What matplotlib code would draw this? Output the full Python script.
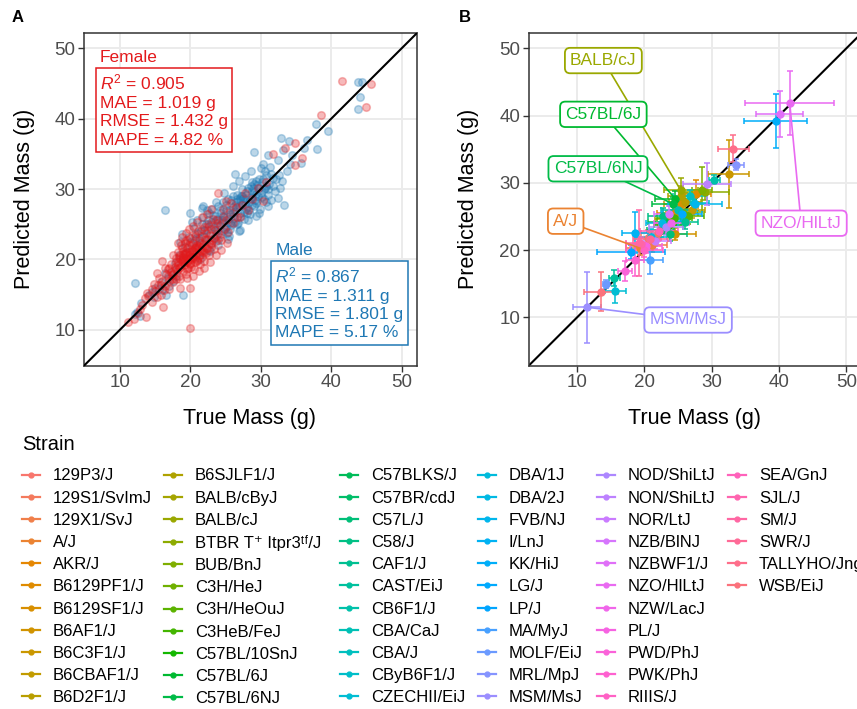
import numpy as np
import matplotlib
matplotlib.use("Agg")
import matplotlib.pyplot as plt
from matplotlib.lines import Line2D

plt.rcParams["font.family"] = ["Liberation Sans", "DejaVu Sans"]
plt.rcParams["mathtext.fontset"] = "custom"
plt.rcParams["mathtext.rm"] = "Liberation Sans"
plt.rcParams["mathtext.it"] = "Liberation Sans:italic"
plt.rcParams["mathtext.bf"] = "Liberation Sans:bold"

# ---- panel A: individual mice (true, predicted) ----
female_true = [
    11.2, 12.5, 13.7, 16.1, 19.9, 14.0, 14.5, 13.6, 15.2, 18.5,
    19.9, 15.0, 15.8, 16.4, 16.0, 17.0, 17.4, 16.8, 17.2, 17.6,
    17.8, 18.0, 18.1, 18.2, 18.3, 18.4, 18.5, 18.6, 18.7, 18.8,
    18.9, 19.0, 19.0, 19.1, 19.2, 19.3, 19.4, 19.5, 19.5, 19.6,
    19.7, 19.8, 19.9, 20.0, 20.0, 20.1, 20.2, 20.3, 20.4, 20.5,
    20.5, 20.6, 20.7, 20.8, 20.9, 21.0, 21.0, 21.1, 21.2, 21.3,
    21.4, 21.5, 21.6, 21.7, 21.8, 21.9, 22.0, 22.0, 22.1, 22.2,
    22.3, 22.4, 22.5, 22.6, 22.7, 22.8, 22.9, 23.0, 23.1, 23.2,
    23.3, 23.4, 23.5, 23.7, 23.8, 24.0, 24.0, 24.2, 24.4, 24.6,
    24.8, 25.0, 25.0, 25.3, 25.6, 26.0, 26.5, 27.0, 27.8, 28.2,
    30.3, 30.7, 31.7, 33.5, 34.8, 35.8, 34.8, 38.5, 41.6, 45.7,
    44.9, 18.6, 19.2, 19.8, 20.3, 20.8, 19.4, 20.6, 21.2, 19.0,
    20.0, 21.4, 18.9, 20.2, 19.6, 21.8, 22.4, 17.9, 18.4, 20.9,
    19.3, 16.9, 17.3, 16.5, 18.0, 15.4, 14.8, 13.9, 15.9,
    17.0, 17.5, 18.2, 18.8, 19.4, 19.8, 20.4, 21.0, 21.6, 22.4,
    23.0, 17.6, 18.6, 19.6, 20.4, 21.2, 22.0, 22.8, 23.6, 24.4,
    25.2, 16.4, 16.0, 15.6, 14.6, 13.2, 12.8, 12.0, 18.8, 19.6,
    20.6, 21.6, 22.6, 23.6, 24.6, 25.8, 26.6, 27.4, 28.8, 29.6,
    17.4, 18.2, 19.0, 19.8, 20.6, 21.4, 22.2, 23.0, 18.4, 19.2,
    20.0, 20.8, 21.6, 19.7, 20.2, 18.0, 17.0, 16.2, 15.2, 24.2,
]
female_pred = [
    11.1, 12.4, 11.8, 13.2, 10.3, 14.8, 13.9, 14.5, 18.1, 16.0,
    15.9, 15.5, 15.0, 16.2, 17.0, 15.8, 17.2, 18.6, 19.4, 18.0,
    19.0, 20.2, 18.4, 21.0, 19.6, 17.6, 20.6, 18.9, 22.0, 19.9,
    21.2, 18.3, 20.4, 19.2, 22.6, 20.9, 17.9, 19.7, 21.6, 20.2,
    18.8, 22.1, 19.4, 20.8, 23.0, 19.0, 21.4, 20.0, 22.4, 18.6,
    21.0, 19.6, 23.4, 20.5, 22.0, 19.9, 21.6, 24.0, 20.7, 22.8,
    19.3, 21.2, 23.3, 20.4, 22.2, 24.6, 21.0, 19.8, 22.9, 20.9,
    23.8, 21.7, 25.0, 22.4, 20.6, 23.5, 21.8, 24.4, 22.7, 25.8,
    23.1, 21.5, 24.2, 22.6, 25.2, 23.7, 29.5, 24.9, 22.8, 26.0,
    24.3, 28.3, 25.6, 23.9, 26.8, 25.2, 27.4, 26.0, 29.5, 27.1,
    28.3, 31.0, 35.0, 35.8, 36.5, 34.4, 33.5, 40.6, 45.4, 44.9,
    41.7, 20.0, 19.8, 20.6, 21.2, 21.8, 21.0, 20.2, 21.9, 19.6,
    19.5, 22.4, 20.8, 22.0, 18.6, 21.4, 22.9, 19.6, 18.8, 19.8,
    22.3, 17.6, 18.2, 17.9, 17.2, 16.4, 16.5, 15.2, 16.4,
    18.8, 20.6, 22.4, 23.2, 23.8, 24.4, 24.8, 25.4, 26.0, 26.4,
    27.2, 16.8, 17.2, 17.4, 17.6, 18.4, 18.8, 19.6, 20.6, 21.4,
    22.4, 18.8, 19.8, 17.4, 15.8, 13.6, 13.0, 11.6, 21.6, 22.8,
    23.6, 24.4, 24.8, 25.6, 27.2, 28.0, 26.0, 27.8, 28.6, 30.2,
    17.8, 19.2, 20.0, 21.0, 21.6, 20.6, 21.6, 22.2, 20.4, 20.8,
    20.0, 20.9, 21.8, 19.9, 20.4, 18.6, 17.0, 15.6, 14.6, 23.2,
]
male_true = [
    12.1, 12.4, 12.1, 14.5, 15.0, 14.8, 15.5, 16.0, 16.4, 18.9,
    17.0, 16.6, 17.5, 18.0, 17.8, 16.4, 18.5, 18.8, 20.0, 21.7,
    21.8, 19.5, 20.0, 20.5, 20.8, 21.0, 21.3, 21.5, 21.8, 22.0,
    22.2, 22.4, 22.6, 22.8, 23.0, 23.1, 23.3, 23.5, 23.6, 23.8,
    24.0, 24.1, 24.3, 24.5, 24.6, 24.8, 25.0, 25.1, 25.3, 25.4,
    25.6, 25.8, 26.0, 26.1, 26.2, 26.4, 26.5, 26.7, 26.8, 27.0,
    27.1, 27.3, 27.4, 27.6, 27.8, 28.0, 28.1, 28.3, 28.5, 28.6,
    28.8, 29.0, 29.1, 29.3, 29.5, 29.7, 29.9, 30.0, 30.2, 30.4,
    30.6, 30.8, 31.0, 31.2, 31.5, 31.7, 32.0, 32.4, 33.3, 32.4,
    33.0, 28.7, 26.3, 29.0, 30.3, 32.9, 34.0, 36.2, 35.7, 37.8,
    39.5, 38.0, 43.8, 44.4, 44.1, 43.8, 30.8, 31.5, 33.8, 34.5,
    32.6, 27.2, 25.7, 24.4, 23.0, 21.6, 20.4, 19.0, 22.6, 23.9,
    25.2, 26.6, 27.6, 28.4, 29.6, 30.4, 29.2, 27.9, 26.0, 24.9,
    23.7, 22.3, 21.2, 20.6, 29.8, 31.0, 27.0, 25.5,
    22.5, 23.2, 24.2, 25.0, 25.8, 26.6, 27.4, 28.2, 29.0, 29.8,
    30.6, 31.3, 23.4, 24.6, 25.6, 26.4, 27.2, 28.0, 28.8, 29.4,
    30.2, 31.0, 31.8, 32.2, 22.0, 22.9, 23.9, 24.7, 25.5, 26.3,
    27.1, 27.9, 28.7, 29.5, 30.3, 21.0, 21.6, 20.6, 19.8, 19.2,
    20.2, 18.4, 17.6, 16.8, 15.8, 14.2, 13.0, 12.8, 22.4, 23.6,
    24.8, 26.0, 26.9, 27.8, 28.6, 30.0, 31.0, 33.2, 34.2, 36.6,
    32.8, 30.8, 29.4, 28.2, 26.9, 25.4, 24.0, 22.8, 21.4, 25.3,
    26.1, 26.9, 27.7, 28.5, 29.3, 24.5, 23.8, 27.5, 28.9, 26.6,
]
male_pred = [
    12.2, 12.6, 16.7, 15.4, 16.0, 14.6, 15.8, 15.6, 18.1, 14.9,
    16.2, 14.9, 17.0, 17.6, 19.5, 27.1, 22.5, 23.6, 26.6, 27.3,
    27.6, 21.0, 22.5, 24.5, 23.0, 25.6, 22.2, 24.0, 26.0, 23.2,
    25.0, 24.2, 26.6, 23.8, 25.4, 27.2, 24.6, 26.2, 23.4, 25.8,
    27.6, 24.9, 26.6, 25.3, 28.2, 26.0, 24.6, 27.0, 25.8, 28.6,
    26.4, 24.9, 27.5, 29.0, 25.9, 26.9, 28.2, 27.4, 25.2, 28.8,
    26.6, 27.9, 30.0, 26.8, 28.6, 27.4, 29.7, 28.2, 26.5, 30.4,
    28.9, 27.6, 29.6, 31.2, 28.3, 30.2, 27.2, 29.4, 31.0, 28.6,
    30.1, 32.0, 29.2, 30.8, 28.4, 31.6, 29.8, 28.8, 27.8, 34.2,
    31.2, 31.0, 32.1, 35.3, 33.6, 37.3, 36.8, 35.8, 33.7, 39.2,
    38.2, 35.7, 45.2, 45.2, 43.1, 41.4, 30.4, 32.2, 32.6, 34.8,
    32.0, 29.0, 25.2, 23.6, 22.4, 21.0, 20.3, 20.0, 21.4, 22.8,
    23.8, 25.0, 25.8, 27.0, 29.0, 30.0, 28.4, 27.2, 26.2, 24.4,
    24.0, 22.8, 23.0, 21.6, 26.6, 27.6, 24.2, 23.3,
    25.6, 26.3, 27.0, 27.8, 28.4, 29.2, 29.0, 30.1, 30.8, 31.5,
    32.6, 33.2, 23.0, 24.0, 24.4, 25.4, 26.2, 26.6, 27.8, 28.0,
    28.9, 30.0, 30.4, 31.5, 24.2, 25.0, 25.6, 26.2, 27.0, 27.8,
    28.4, 29.2, 29.8, 30.6, 31.4, 23.8, 25.0, 22.8, 23.2, 21.8,
    25.4, 20.6, 18.4, 17.4, 16.8, 15.0, 13.8, 12.0, 27.0, 28.2,
    29.4, 30.4, 31.2, 31.8, 32.6, 33.0, 34.8, 35.6, 33.6, 37.0,
    30.2, 28.2, 26.2, 25.6, 24.0, 22.9, 22.0, 21.2, 20.0, 25.3,
    26.6, 27.6, 27.9, 28.6, 29.3, 25.6, 24.4, 28.8, 30.2, 28.6,
]

female_stats = ["Female", "$R^2$ = 0.905", "MAE = 1.019 g", "RMSE = 1.432 g", "MAPE = 4.82 %"]
male_stats = ["Male", "$R^2$ = 0.867", "MAE = 1.311 g", "RMSE = 1.801 g", "MAPE = 5.17 %"]

# ---- panel B: per-strain mean and spread ----
strains = [
    "129P3/J", "129S1/SvImJ", "129X1/SvJ", "A/J", "AKR/J", "B6129PF1/J",
    "B6129SF1/J", "B6AF1/J", "B6C3F1/J", "B6CBAF1/J", "B6D2F1/J",
    "B6SJLF1/J", "BALB/cByJ", "BALB/cJ", "BTBR T\u207a Itpr3\u1d57\u1da0/J",
    "BUB/BnJ", "C3H/HeJ", "C3H/HeOuJ", "C3HeB/FeJ", "C57BL/10SnJ",
    "C57BL/6J", "C57BL/6NJ", "C57BLKS/J", "C57BR/cdJ", "C57L/J", "C58/J",
    "CAF1/J", "CAST/EiJ", "CB6F1/J", "CBA/CaJ", "CBA/J", "CByB6F1/J",
    "CZECHII/EiJ", "DBA/1J", "DBA/2J", "FVB/NJ", "I/LnJ", "KK/HiJ", "LG/J",
    "LP/J", "MA/MyJ", "MOLF/EiJ", "MRL/MpJ", "MSM/MsJ", "NOD/ShiLtJ",
    "NON/ShiLtJ", "NOR/LtJ", "NZB/BlNJ", "NZBWF1/J", "NZO/HlLtJ",
    "NZW/LacJ", "PL/J", "PWD/PhJ", "PWK/PhJ", "RIIIS/J", "SEA/GnJ", "SJL/J",
    "SM/J", "SWR/J", "TALLYHO/JngJ", "WSB/EiJ",
]
strain_true = [
    20.5, 22.0, 21.2, 19.3, 24.6, 27.7, 25.4, 24.5, 32.5, 27.0, 26.0,
    25.5, 23.5, 25.4, 29.0, 28.6, 25.8, 26.5, 24.4, 23.6, 24.6, 24.2,
    23.0, 22.4, 23.8, 22.8, 26.0, 15.5, 30.4, 25.0, 26.8, 27.4, 15.7,
    21.0, 22.6, 27.5, 18.6, 39.5, 25.6, 18.0, 20.8, 14.3, 33.6, 11.5,
    23.2, 29.3, 21.5, 23.6, 40.1, 41.6, 24.0, 20.2, 17.1, 18.6, 20.0,
    22.2, 19.5, 19.2, 20.9, 33.2, 13.5,
]
strain_pred = [
    21.8, 22.6, 20.8, 20.3, 25.5, 28.3, 26.8, 22.4, 31.3, 26.0, 27.2,
    28.0, 24.6, 28.9, 28.6, 29.0, 25.5, 25.0, 24.8, 23.8, 27.6, 26.9,
    24.2, 23.0, 22.4, 25.0, 24.2, 15.9, 30.5, 25.9, 28.0, 27.0, 13.9,
    22.0, 24.0, 26.8, 22.6, 39.2, 25.4, 19.7, 18.5, 14.9, 32.7, 11.5,
    23.4, 29.8, 21.3, 25.4, 40.3, 41.9, 24.0, 20.6, 16.9, 18.6, 20.0,
    22.8, 20.9, 21.0, 21.6, 35.1, 13.8,
]
strain_true_sd = [
    2.0, 2.5, 2.2, 2.0, 2.8, 2.2, 2.5, 3.2, 3.0, 2.0, 2.4,
    2.0, 2.0, 2.5, 3.6, 1.5, 2.2, 2.4, 2.6, 2.2, 3.0, 3.0,
    2.5, 2.0, 2.6, 2.2, 2.0, 0.8, 0.8, 2.5, 2.5, 2.2, 1.5,
    2.3, 2.4, 4.0, 2.0, 4.7, 3.0, 5.0, 2.0, 0.4, 1.2, 2.1,
    2.5, 3.6, 2.4, 2.2, 3.5, 6.6, 2.6, 2.4, 1.0, 1.4, 2.8,
    2.8, 2.3, 2.0, 2.6, 2.3, 2.5,
]
strain_pred_sd = [
    1.2, 1.3, 1.1, 1.0, 1.4, 2.1, 1.5, 0.9, 5.1, 1.2, 1.3,
    1.5, 1.2, 1.8, 1.2, 3.3, 1.0, 1.1, 1.0, 1.0, 1.2, 1.0,
    1.1, 1.0, 1.0, 1.2, 1.0, 1.2, 0.7, 1.2, 1.0, 1.1, 1.7,
    1.2, 1.0, 1.0, 3.1, 4.0, 1.1, 1.0, 2.0, 0.6, 0.8, 5.3,
    1.2, 3.1, 1.2, 1.1, 3.4, 4.8, 1.2, 1.1, 1.5, 2.4, 1.0,
    1.3, 1.0, 4.9, 1.1, 2.0, 2.9,
]
# strains called out with a label: (name, label x, label y)
callouts = [
    ("BALB/cJ", 13.9, 48.2),
    ("C57BL/6J", 13.9, 40.2),
    ("C57BL/6NJ", 13.1, 32.1),
    ("A/J", 8.3, 24.3),
    ("NZO/HlLtJ", 43.3, 24.0),
    ("MSM/MsJ", 26.5, 9.6),
]


def hcl_hex(h, c=100.0, l=65.0):
    # polar LUV -> sRGB, like R's hcl() used by ggplot's hue palette
    hr = np.radians(h)
    U, V = c * np.cos(hr), c * np.sin(hr)
    Xn, Yn, Zn = 95.047, 100.0, 108.883
    Y = Yn * ((l + 16) / 116) ** 3 if l > 8 else Yn * l / 903.3
    un = 4 * Xn / (Xn + 15 * Yn + 3 * Zn)
    vn = 9 * Yn / (Xn + 15 * Yn + 3 * Zn)
    u = U / (13 * l) + un
    v = V / (13 * l) + vn
    X = 9.0 * Y * u / (4 * v)
    Z = -X / 3 - 5 * Y + 3 * Y / v
    X, Y, Z = X / 100, Y / 100, Z / 100
    rgb = [3.240479 * X - 1.537150 * Y - 0.498535 * Z,
           -0.969256 * X + 1.875992 * Y + 0.041556 * Z,
           0.055648 * X - 0.204043 * Y + 1.057311 * Z]
    out = []
    for ch in rgb:
        ch = 12.92 * ch if ch <= 0.0031308 else 1.055 * ch ** (1 / 2.4) - 0.055
        out.append(min(max(ch, 0), 1))
    return tuple(out)


n = len(strains)
hues = np.linspace(15, 375, n + 1)[:-1]
colors = [hcl_hex(h) for h in hues]

RED = "#E31A1C"
BLUE = "#1F78B4"
GRID = "#EBEBEB"
DARK = "#333333"
TICKC = "#4D4D4D"

fig = plt.figure(figsize=(8.57, 7.09), dpi=100)
axA = fig.add_axes([84 / 857, 1 - 365.7 / 709, 333 / 857, 332.7 / 709])
axB = fig.add_axes([528.7 / 857, 1 - 365.7 / 709, 333 / 857, 332.7 / 709])


def style(ax, lim):
    ax.set_xlim(*lim)
    ax.set_ylim(*lim)
    ax.set_xticks([10, 20, 30, 40, 50])
    ax.set_yticks([10, 20, 30, 40, 50])
    ax.grid(True, color=GRID, lw=1.4, zorder=0)
    ax.set_axisbelow(True)
    for s in ax.spines.values():
        s.set_color(DARK)
        s.set_linewidth(1.1)
    ax.tick_params(colors=DARK, labelcolor=TICKC, labelsize=13.5,
                   length=4, width=1.0, pad=2)
    ax.set_xlabel("True Mass (g)", fontsize=15.5)
    ax.set_ylabel("Predicted Mass (g)", fontsize=15.5)
    ax.xaxis.set_label_coords(0.497, -0.127)
    ax.yaxis.set_label_coords(-0.148, 0.5)


# ---- panel A ----
style(axA, (4.9, 52.2))
axA.scatter(male_true, male_pred, s=30, facecolor=BLUE, edgecolor=BLUE,
            linewidths=1.1, alpha=0.3, zorder=2)
axA.scatter(female_true, female_pred, s=30, facecolor=RED, edgecolor=RED,
            linewidths=1.1, alpha=0.3, zorder=3)
axA.plot([0, 60], [0, 60], color="black", lw=1.5, zorder=4)

axA.text(0.048, 0.926, female_stats[0], transform=axA.transAxes, color=RED,
         fontsize=12.5, ha="left", va="center")
axA.text(0.048, 0.768, "\n".join(female_stats[1:]), transform=axA.transAxes,
         color=RED, fontsize=12.5, ha="left", va="center", linespacing=1.28,
         bbox=dict(boxstyle="square,pad=0.25", fc="white", ec=RED, lw=1.1),
         zorder=5)
axA.text(0.574, 0.346, male_stats[0], transform=axA.transAxes, color=BLUE,
         fontsize=12.5, ha="left", va="center")
axA.text(0.574, 0.189, "\n".join(male_stats[1:]), transform=axA.transAxes,
         color=BLUE, fontsize=12.5, ha="left", va="center", linespacing=1.28,
         bbox=dict(boxstyle="square,pad=0.25", fc="white", ec=BLUE, lw=1.1),
         zorder=5)

# ---- panel B ----
style(axB, (2.8, 52.3))
axB.plot([0, 60], [0, 60], color="black", lw=1.5, zorder=1)
for i in range(n):
    axB.errorbar(strain_true[i], strain_pred[i],
                 xerr=strain_true_sd[i], yerr=strain_pred_sd[i],
                 fmt="o", color=colors[i], ms=5, elinewidth=1.1,
                 capsize=2.5, capthick=1.1, zorder=2)

for name, lx, ly in callouts:
    i = strains.index(name)
    axB.plot([lx, strain_true[i]], [ly, strain_pred[i]], color=colors[i],
             lw=1.2, zorder=3)
    axB.text(lx, ly, name, color=colors[i], fontsize=12.5, ha="center",
             va="center", zorder=4,
             bbox=dict(boxstyle="round,pad=0.3,rounding_size=0.3", fc="white",
                       ec=colors[i], lw=1.3))

fig.text(18 / 857, 1 - 17 / 709, "A", fontsize=12, fontweight="bold",
         ha="center", va="center")
fig.text(465 / 857, 1 - 17 / 709, "B", fontsize=12, fontweight="bold",
         ha="center", va="center")

# ---- legend: title plus six columns of up to 11 keys ----
fig.text(22 / 857, 1 - 445 / 709, "Strain", fontsize=14.5, ha="left",
         va="center")
col_left_px = [21.7, 164, 340, 478, 597, 728]
per_col = 11
for k, xpx in enumerate(col_left_px):
    idx = range(k * per_col, min((k + 1) * per_col, n))
    hs = [Line2D([0], [0], color=colors[i], lw=1.6, marker="o", ms=3.5)
          for i in idx]
    ls = [strains[i] for i in idx]
    leg = fig.legend(hs, ls, loc="upper left",
                     bbox_to_anchor=(xpx / 857, 1 - 468.5 / 709),
                     frameon=False, fontsize=12, borderpad=0,
                     borderaxespad=0, handlelength=1.1, handletextpad=0.75,
                     labelspacing=0.43)

fig.savefig("out.png", dpi=100)
